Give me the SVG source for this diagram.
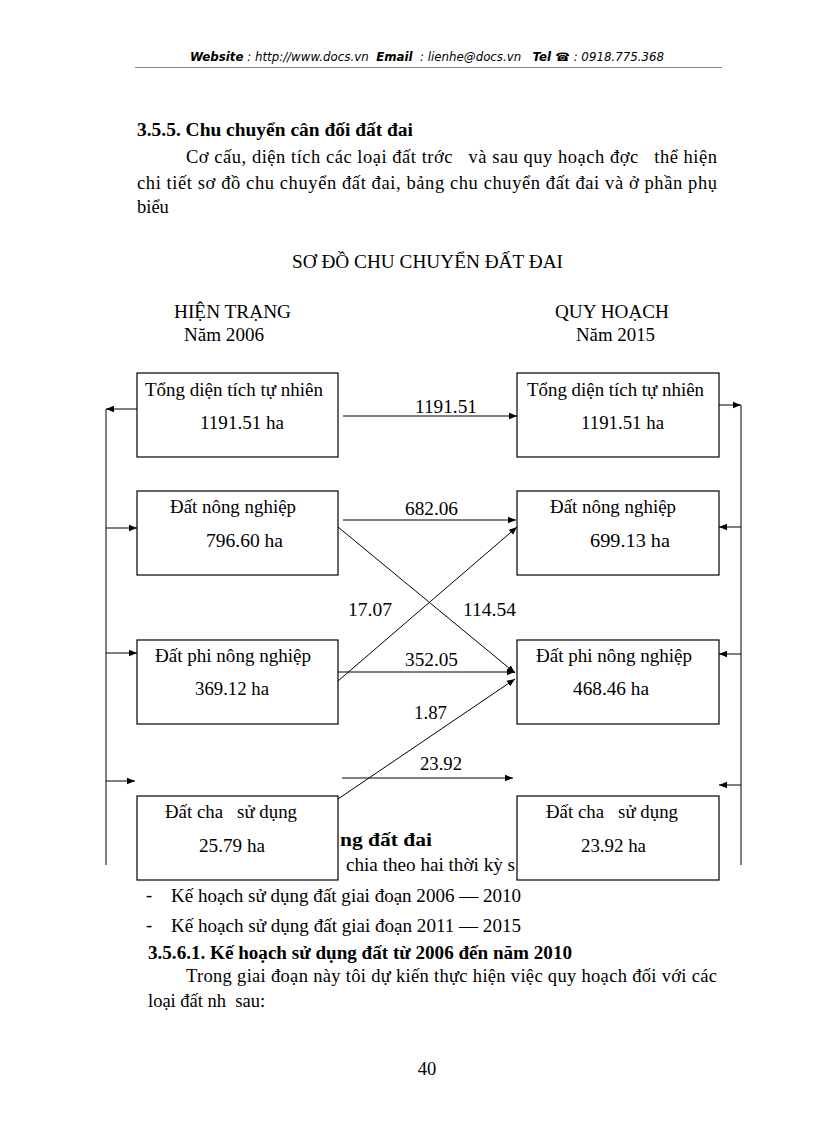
<svg xmlns="http://www.w3.org/2000/svg" width="816" height="1123" viewBox="0 0 816 1123">
<defs>
<marker id="ah" viewBox="0 0 10 10" refX="10" refY="5" markerWidth="8" markerHeight="8" markerUnits="userSpaceOnUse" orient="auto">
<path d="M0,1 L10,5 L0,9 Z" fill="#000"/>
</marker>
<style>
.t{font-family:"Liberation Serif","Times New Roman",serif;font-size:18.5px;fill:#000}
.b{font-weight:bold}
.box{fill:#fff;stroke:#000;stroke-width:1.2}
.ln{stroke:#000;stroke-width:1;fill:none}
.ar{stroke:#000;stroke-width:1;fill:none;marker-end:url(#ah)}
.hd{font-family:"DejaVu Sans","Liberation Sans",sans-serif;font-size:11.5px;font-style:italic;fill:#000}
</style>
</defs>
<rect width="816" height="1123" fill="#fff"/>

<!-- header -->
<text class="hd" x="190" y="61" textLength="474" lengthAdjust="spacingAndGlyphs" xml:space="preserve"><tspan font-weight="bold">Website</tspan> : http://www.docs.vn  <tspan font-weight="bold">Email</tspan>  : lienhe@docs.vn   <tspan font-weight="bold">Tel </tspan><tspan font-style="normal">☎</tspan> : 0918.775.368</text>
<line x1="135" y1="67.5" x2="722" y2="67.5" stroke="#888" stroke-width="1"/>

<!-- intro text -->
<text class="t b" x="137" y="136" textLength="276" lengthAdjust="spacingAndGlyphs">3.5.5. Chu chuyển cân đối đất đai</text>
<text class="t" x="186" y="163" textLength="531" lengthAdjust="spacing" xml:space="preserve">Cơ cấu, diện tích các loại đất trớc   và sau quy hoạch đợc   thể hiện</text>
<text class="t" x="137" y="189" textLength="580" lengthAdjust="spacing">chi tiết sơ đồ chu chuyển đất đai, bảng chu chuyển đất đai và ở phần phụ</text>
<text class="t" x="137" y="213">biểu</text>

<text class="t" x="292" y="268" textLength="271" lengthAdjust="spacingAndGlyphs">SƠ ĐỒ CHU CHUYỂN ĐẤT ĐAI</text>
<text class="t" x="174" y="318" textLength="117" lengthAdjust="spacingAndGlyphs">HIỆN TRẠNG</text>
<text class="t" x="184" y="341" textLength="80" lengthAdjust="spacingAndGlyphs">Năm 2006</text>
<text class="t" x="555" y="318" textLength="114" lengthAdjust="spacingAndGlyphs">QUY HOẠCH</text>
<text class="t" x="576" y="341" textLength="79" lengthAdjust="spacingAndGlyphs">Năm 2015</text>

<!-- partially hidden text behind boxes -->
<text class="t b" x="340" y="846" textLength="92" lengthAdjust="spacingAndGlyphs">ng đất đai</text>
<text class="t" x="346" y="871" textLength="169" lengthAdjust="spacingAndGlyphs">chia theo hai thời kỳ s</text>

<!-- connectors -->
<g id="connectors">
<line class="ar" x1="137" y1="409" x2="106" y2="409"/>
<line class="ln" x1="106" y1="409" x2="106" y2="865"/>
<line class="ar" x1="106" y1="528" x2="137" y2="528"/>
<line class="ar" x1="106" y1="653" x2="137" y2="653"/>
<line class="ar" x1="106" y1="781" x2="135" y2="781"/>

<line class="ar" x1="719" y1="405" x2="741" y2="405"/>
<line class="ln" x1="741" y1="405" x2="741" y2="865"/>
<line class="ar" x1="741" y1="527" x2="719" y2="527"/>
<line class="ar" x1="741" y1="654" x2="719" y2="654"/>
<line class="ar" x1="741" y1="785" x2="719" y2="785"/>

<line class="ar" x1="343" y1="416" x2="517" y2="416"/>
<line class="ar" x1="343" y1="520" x2="516" y2="520"/>
<line class="ar" x1="338" y1="527" x2="515" y2="673"/>
<line class="ar" x1="338" y1="681" x2="517" y2="527"/>
<line class="ar" x1="338" y1="672" x2="515" y2="672"/>
<line class="ar" x1="338" y1="799" x2="515" y2="679"/>
<line class="ar" x1="342" y1="778" x2="513" y2="778"/>

<text class="t" x="415" y="413" textLength="62" lengthAdjust="spacingAndGlyphs">1191.51</text>
<text class="t" x="405" y="515" textLength="53" lengthAdjust="spacingAndGlyphs">682.06</text>
<text class="t" x="348" y="616" textLength="44" lengthAdjust="spacingAndGlyphs">17.07</text>
<text class="t" x="463" y="616" textLength="53" lengthAdjust="spacingAndGlyphs">114.54</text>
<text class="t" x="405" y="666" textLength="53" lengthAdjust="spacingAndGlyphs">352.05</text>
<text class="t" x="414" y="719" textLength="33" lengthAdjust="spacingAndGlyphs">1.87</text>
<text class="t" x="420" y="770" textLength="42" lengthAdjust="spacingAndGlyphs">23.92</text>
</g>

<!-- left nodes -->
<g id="l1"><rect class="box" x="137" y="373" width="201" height="84"/>
<text class="t" x="145" y="396" textLength="178" lengthAdjust="spacingAndGlyphs">Tổng diện tích tự nhiên</text>
<text class="t" x="200" y="429" textLength="84" lengthAdjust="spacingAndGlyphs">1191.51 ha</text></g>
<g id="l2"><rect class="box" x="137" y="491" width="201" height="84"/>
<text class="t" x="170" y="513" textLength="126" lengthAdjust="spacingAndGlyphs">Đất nông nghiệp</text>
<text class="t" x="206" y="547" textLength="77" lengthAdjust="spacingAndGlyphs">796.60 ha</text></g>
<g id="l3"><rect class="box" x="137" y="640" width="201" height="84"/>
<text class="t" x="155" y="662" textLength="156" lengthAdjust="spacingAndGlyphs">Đất phi nông nghiệp</text>
<text class="t" x="195" y="695" textLength="74" lengthAdjust="spacingAndGlyphs">369.12 ha</text></g>
<g id="l4"><rect class="box" x="137" y="796" width="201" height="84"/>
<text class="t" x="165" y="818" textLength="132" lengthAdjust="spacingAndGlyphs" xml:space="preserve">Đất cha   sử dụng</text>
<text class="t" x="199" y="852" textLength="66" lengthAdjust="spacingAndGlyphs">25.79 ha</text></g>

<!-- right nodes -->
<g id="r1"><rect class="box" x="517" y="373" width="202" height="84"/>
<text class="t" x="527" y="396" textLength="177" lengthAdjust="spacingAndGlyphs">Tổng diện tích tự nhiên</text>
<text class="t" x="581" y="429" textLength="83" lengthAdjust="spacingAndGlyphs">1191.51 ha</text></g>
<g id="r2"><rect class="box" x="517" y="491" width="202" height="84"/>
<text class="t" x="550" y="513" textLength="126" lengthAdjust="spacingAndGlyphs">Đất nông nghiệp</text>
<text class="t" x="590" y="547" textLength="80" lengthAdjust="spacingAndGlyphs">699.13 ha</text></g>
<g id="r3"><rect class="box" x="517" y="640" width="202" height="84"/>
<text class="t" x="536" y="662" textLength="156" lengthAdjust="spacingAndGlyphs">Đất phi nông nghiệp</text>
<text class="t" x="573" y="695" textLength="76" lengthAdjust="spacingAndGlyphs">468.46 ha</text></g>
<g id="r4"><rect class="box" x="517" y="796" width="202" height="84"/>
<text class="t" x="546" y="818" textLength="132" lengthAdjust="spacingAndGlyphs" xml:space="preserve">Đất cha   sử dụng</text>
<text class="t" x="581" y="852" textLength="65" lengthAdjust="spacingAndGlyphs">23.92 ha</text></g>

<!-- text below -->
<text class="t" x="146" y="901">-</text>
<text class="t" x="171" y="902" textLength="350" lengthAdjust="spacingAndGlyphs">Kế hoạch sử dụng đất giai đoạn 2006 — 2010</text>
<text class="t" x="146" y="931">-</text>
<text class="t" x="171" y="932" textLength="350" lengthAdjust="spacingAndGlyphs">Kế hoạch sử dụng đất giai đoạn 2011 — 2015</text>
<text class="t b" x="148" y="959" textLength="424" lengthAdjust="spacingAndGlyphs">3.5.6.1. Kế hoạch sử dụng đất từ 2006 đến năm 2010</text>
<text class="t" x="186" y="982" textLength="531" lengthAdjust="spacing">Trong giai đoạn này tôi dự kiến thực hiện việc quy hoạch đối với các</text>
<text class="t" x="148" y="1007" xml:space="preserve">loại đất nh  sau:</text>
<text class="t" x="427" y="1075" text-anchor="middle">40</text>
</svg>
